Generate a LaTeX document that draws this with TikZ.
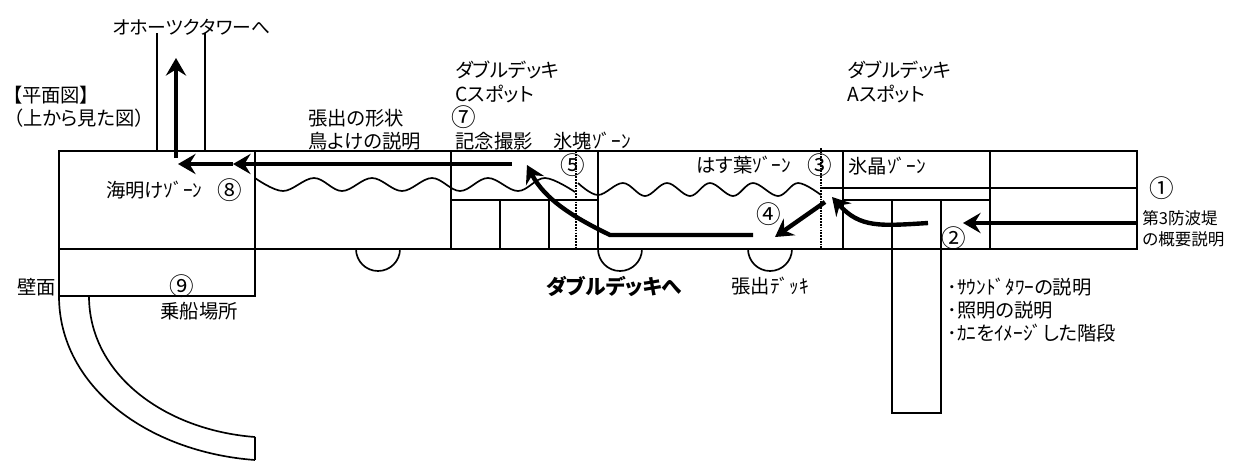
\documentclass[tikz,border=0pt]{standalone}
\usepackage{fontspec}
\setmainfont[RawFeature=+palt]{Noto Sans CJK JP}
\usetikzlibrary{arrows.meta}
\tikzset{
  wall/.style={line width=1.45pt},
  thinwall/.style={line width=0.95pt},
  route/.style={line width=2.5pt, -{Stealth[length=10pt,width=11.5pt,inset=3.5pt]}},
  zonetext/.style={anchor=west, inner sep=0pt, font=\fontsize{11}{12}\selectfont},
  smalltext/.style={anchor=west, inner sep=0pt, font=\fontsize{9.4}{10}\selectfont},
  spotmark/.style={inner sep=0pt, font=\fontsize{14}{15}\selectfont}
}
\begin{document}
\begin{tikzpicture}[x=0.02cm, y=-0.02cm]
\useasboundingbox (0,0) rectangle (1240,461);

% Main deck
\draw[wall] (59,151) rectangle (1137,249);
\draw[wall] (59,249) rectangle (255,296);
\draw[wall] (255,151) -- (255,249);
\foreach \wx in {451,598,843,990}
  \draw[wall] (\wx,151) -- (\wx,249);
\foreach \wx in {500,549}
  \draw[wall] (\wx,200) -- (\wx,249);
\draw[wall] (451,200) -- (598,200);
\draw[wall] (843,200) -- (990,200);
\draw[wall] (821,188) -- (1137,188);

% Dotted limits
\draw[wall, dash pattern=on 1pt off 0.6pt] (576,151) -- (576,249);
\draw[wall, dash pattern=on 1pt off 0.6pt] (821,148) -- (821,249);

% Tower passage and stairs
\draw[wall] (157,33) -- (157,151);
\draw[wall] (205,33) -- (205,151);
\draw[wall] (892,200) -- (892,413) -- (941,413) -- (941,200);

% Balconies
\foreach \bx in {356,598,748}
  \draw[thinwall] (\bx,249) arc[start angle=180, end angle=0, radius=22];

% Curved pier
\draw[thinwall] (59,296) .. controls (59,386) and (147,452) .. (255,460);
\draw[thinwall] (89,296) .. controls (89,374) and (164,430) .. (255,437);
\draw[wall] (255,437) -- (255,460);

% Waves
\draw[thinwall] plot[smooth, tension=0.6] coordinates {(255,178) (283,191) (314,178) (342,191) (372,178) (402,191) (432,178) (460,191) (488,178) (518,191) (545,178) (575,192)};
\draw[thinwall] plot[smooth, tension=0.6] coordinates {(578,183) (598,195) (623,183) (645,196) (667,183) (690,196) (710,183) (733,196) (753,183) (778,196) (798,183) (821,195)};

% Route
\draw[route] (1137,223) -- (963,223);
\draw[route] (928,223) .. controls (880,226) and (860,228) .. (832,197);
\draw[route] (825,202) -- (775,237);
\draw[route] (753,235) -- (610,235) .. controls (575,218) and (545,200) .. (527,165);
\draw[route] (512,164) -- (233,164);
\draw[route] (233,164) -- (178,164);
\draw[route] (176,158) -- (176,58);

% Labels
\node[zonetext, font=\fontsize{10.7}{12}\selectfont] (tower) at (112,27) {オホーツクタワーへ};
\node[zonetext] (plan) at (12,95) {【平面図】};
\node[zonetext] (planview) at (13,118) {（上から見た図）};
\node[zonetext] (shape) at (308,118) {張出の形状};
\node[zonetext] (birds) at (308,141) {鳥よけの説明};
\node[zonetext] (deckc) at (455,70) {ダブルデッキ};
\node[zonetext] (spotc) at (455,94) {Cスポット};
\node[spotmark] (seven) at (464,117) {⑦};
\node[zonetext] (photo) at (455,141) {記念撮影};
\node[zonetext] (icezone) at (553,141) {氷塊ｿﾞｰﾝ};
\node[spotmark] (five) at (573,165) {⑤};
\node[zonetext] (lotus) at (696,165) {はす葉ｿﾞｰﾝ};
\node[spotmark] (three) at (820,165) {③};
\node[zonetext] (crystal) at (848,166) {氷晶ｿﾞｰﾝ};
\node[zonetext] (decka) at (847,70) {ダブルデッキ};
\node[zonetext] (spota) at (847,94) {Aスポット};
\node[spotmark] (one) at (1162,188) {①};
\node[smalltext] (breakwater) at (1142,218) {第3防波堤};
\node[smalltext] (outline) at (1142,239) {の概要説明};
\node[spotmark] (two) at (954,238) {②};
\node[spotmark] (four) at (769,214) {④};
\node[zonetext] (dawn) at (106,190) {海明けｿﾞｰﾝ};
\node[spotmark] (eight) at (230,190) {⑧};
\node[spotmark] (nine) at (182,286) {⑨};
\node[zonetext] (wallface) at (17,287) {壁面};
\node[zonetext] (boarding) at (160,311) {乗船場所};
\node[zonetext, font=\fontsize{11.8}{12}\selectfont\bfseries] (todeck) at (546,286) {ダブルデッキへ};
\node[zonetext] (balcony) at (731,286) {張出ﾃﾞｯｷ};
\node[zonetext] (sound) at (947,287) {･ｻｳﾝﾄﾞﾀﾜｰの説明};
\node[zonetext] (light) at (947,310) {･照明の説明};
\node[zonetext] (crab) at (947,333) {･ｶﾆをｲﾒｰｼﾞした階段};
\end{tikzpicture}
\end{document}
